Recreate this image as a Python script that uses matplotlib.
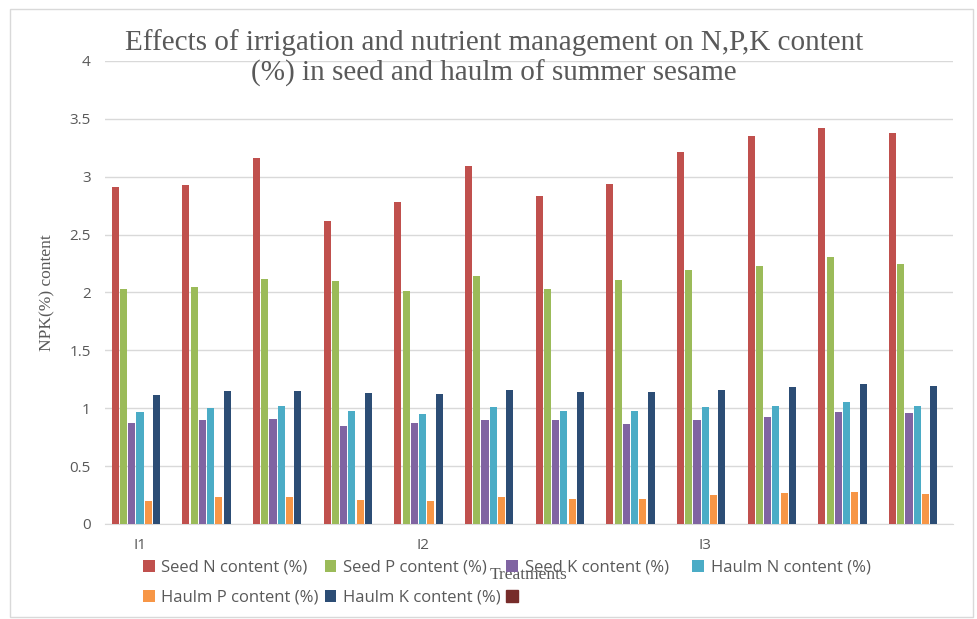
import matplotlib
matplotlib.use("Agg")
import matplotlib.pyplot as plt
from matplotlib.patches import Patch, Rectangle
import numpy as np

# data
treatments = ["I1", "", "", "", "I2", "", "", "", "I3", "", "", ""]
series_names = ["Seed N content (%)", "Seed P content (%)", "Seed K content (%)",
                "Haulm N content (%)", "Haulm P content (%)", "Haulm K content (%)"]
seed_n = [2.91, 2.93, 3.16, 2.62, 2.78, 3.09, 2.83, 2.94, 3.21, 3.35, 3.42, 3.38]
seed_p = [2.03, 2.05, 2.12, 2.10, 2.01, 2.14, 2.03, 2.11, 2.19, 2.23, 2.31, 2.25]
seed_k = [0.87, 0.90, 0.91, 0.85, 0.87, 0.90, 0.90, 0.86, 0.90, 0.92, 0.97, 0.96]
haulm_n = [0.97, 1.00, 1.02, 0.98, 0.95, 1.01, 0.98, 0.98, 1.01, 1.02, 1.05, 1.02]
haulm_p = [0.20, 0.23, 0.23, 0.21, 0.20, 0.23, 0.22, 0.22, 0.25, 0.27, 0.28, 0.26]
haulm_k = [1.11, 1.15, 1.15, 1.13, 1.12, 1.16, 1.14, 1.14, 1.16, 1.18, 1.21, 1.19]

colors = ["#C0504D", "#9BBB59", "#8064A2", "#4BACC6", "#F79646", "#2C4D75"]
extra_color = "#772C2A"

fig = plt.figure(figsize=(9.78, 6.19), dpi=100)
ax = fig.add_axes([0.107, 0.1535, 0.867, 0.748])

x = np.arange(len(treatments))
pitch = 0.117
w = 0.1
handles = []
for i, (vals, c, name) in enumerate(zip([seed_n, seed_p, seed_k, haulm_n, haulm_p, haulm_k],
                                        colors, series_names)):
    b = ax.bar(x + (i - 3) * pitch, vals, width=w, color=c, label=name, zorder=3)
    handles.append(b)
handles.append(Patch(color=extra_color, label=""))

ax.set_ylim(0, 4)
ax.set_xlim(-0.5, 11.5)
ax.set_yticks(np.arange(0, 4.01, 0.5))
ax.set_yticklabels(["0", "0.5", "1", "1.5", "2", "2.5", "3", "3.5", "4"])
ax.set_xticks(x)
ax.set_xticklabels(treatments)
ax.grid(axis="y", color="#D9D9D9", linewidth=1, zorder=0)
for s in ["top", "right", "left"]:
    ax.spines[s].set_visible(False)
ax.spines["bottom"].set_color("#D9D9D9")
ax.tick_params(length=0, labelcolor="#595959", labelsize=11, pad=10)
for t in ax.get_xticklabels() + ax.get_yticklabels():
    t.set_family("Open Sans")
ax.tick_params(axis="x", pad=10)

fig.text(0.505, 0.906, "Effects of irrigation and nutrient management on N,P,K content\n(%) in seed and haulm of summer sesame",
         family="Liberation Serif", fontsize=21, color="#595959", linespacing=1.2,
         ha="center", va="center")
ax.set_ylabel("NPK(%) content", family="Liberation Serif", fontsize=12.5, color="#595959")
ax.yaxis.set_label_coords(-0.058, 0.5)
ax.set_xlabel("Treatments", family="Liberation Serif", fontsize=12.5, color="#595959")
ax.xaxis.set_label_coords(0.5, -0.092)

# legend in row order: 4 on the first row, 3 on the second
# the unnamed 7th entry gets a blank label so the columns come out evenly spaced
labels = series_names + [" " * 37]
order = [0, 4, 1, 5, 2, 6, 3]
fig.legend([handles[k] for k in order], [labels[k] for k in order],
           ncol=4, loc="upper left", bbox_to_anchor=(0.131, 0.12), frameon=False,
           handlelength=0.7, handleheight=0.7, handletextpad=0.4, columnspacing=0.35,
           labelspacing=0.85, prop={"family": "Open Sans", "size": 12}, labelcolor="#595959")

fig.patches.append(Rectangle((0.01, 0.003), 0.985, 0.982, transform=fig.transFigure,
                             fill=False, edgecolor="#D9D9D9", linewidth=1))

fig.savefig("out.png", dpi=100)
